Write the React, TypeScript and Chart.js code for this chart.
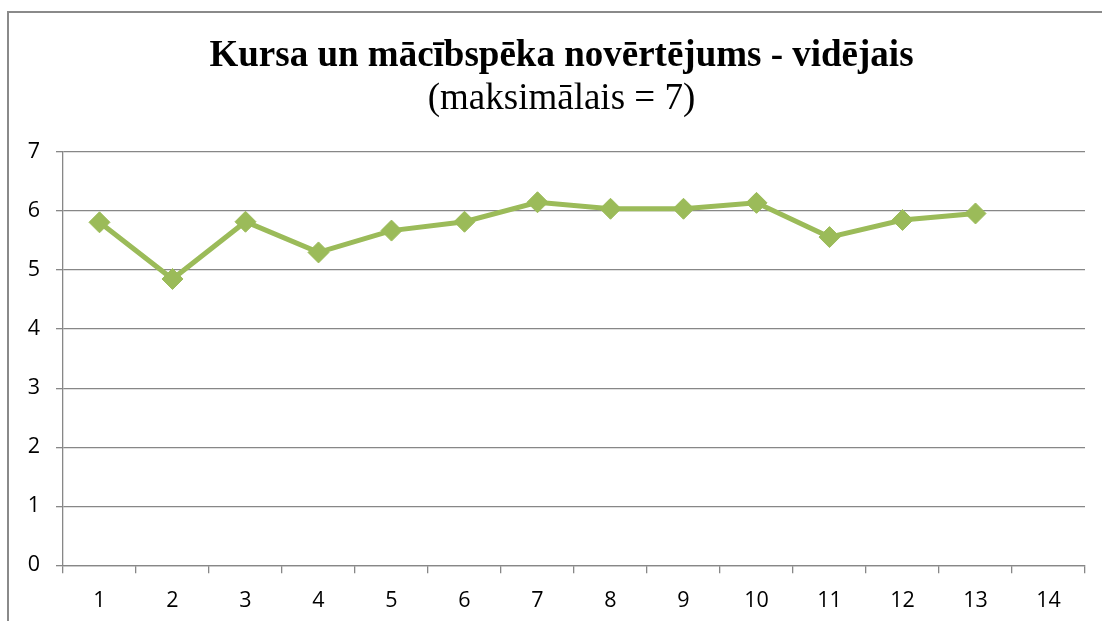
import React, { useEffect, useRef } from "react";
import { Chart, registerables } from "chart.js";

Chart.register(...registerables);

const categories: string[] = ["1", "2", "3", "4", "5", "6", "7", "8", "9", "10", "11", "12", "13", "14"];
const averages: (number | null)[] = [5.81, 4.85, 5.82, 5.3, 5.67, 5.82, 6.15, 6.04, 6.04, 6.14, 5.56, 5.85, 5.96, null];
const titleText = "Kursa un mācībspēka novērtējums - vidējais";
const subtitleText = "(maksimālais = 7)";
const yMin = 0;
const yMax = 7;

const GREEN = "#9BBB59";
const GRID = "#878787";
const TICK_FONT = { family: "'Open Sans', 'Noto Sans', sans-serif", size: 21.5 };

export default function App() {
  const ref = useRef<HTMLCanvasElement | null>(null);

  useEffect(() => {
    if (!ref.current) return;
    const chart = new Chart(ref.current, {
      type: "line",
      data: {
        labels: categories,
        datasets: [
          {
            data: averages,
            borderColor: GREEN,
            backgroundColor: GREEN,
            borderWidth: 5,
            pointStyle: "rectRot",
            pointRadius: 10.5,
            pointBorderWidth: 1,
            pointBorderColor: GREEN,
            pointBackgroundColor: GREEN,
            tension: 0,
            spanGaps: false,
            yAxisID: "y",
          },
        ],
      },
      options: {
        animation: false,
        responsive: true,
        maintainAspectRatio: false,
        layout: { padding: { left: 0, right: 0, top: 0, bottom: -8 } },
        plugins: {
          legend: { display: false },
          tooltip: { enabled: false },
          title: {
            display: true,
            text: titleText,
            color: "#000",
            font: { family: "'Liberation Serif', 'Times New Roman', serif", size: 37, weight: "bold", lineHeight: 1.15 },
            padding: { top: 22, bottom: 0 },
          },
          subtitle: {
            display: true,
            text: subtitleText,
            color: "#000",
            font: { family: "'Liberation Serif', 'Times New Roman', serif", size: 37, weight: "normal", lineHeight: 1.15 },
            padding: { top: 0, bottom: 32 },
          },
        },
        scales: {
          x: {
            offset: true,
            grid: {
              display: true,
              offset: true,
              drawOnChartArea: false,
              drawTicks: true,
              tickLength: 8,
              color: GRID,
              lineWidth: 1.3,
            },
            border: { display: true, color: GRID, width: 1.3 },
            ticks: { color: "#000", font: TICK_FONT, padding: 15, maxRotation: 0, autoSkip: false },
          },
          y: {
            min: yMin,
            max: yMax,
            afterFit: (scale: any) => {
              scale.width = 54;
            },
            grid: {
              display: true,
              drawTicks: true,
              tickLength: 7,
              color: GRID,
              lineWidth: 1.3,
            },
            border: { display: true, color: GRID, width: 1.3 },
            ticks: { stepSize: 1, color: "#000", font: TICK_FONT, padding: 16 },
          },
          yRight: {
            position: "right",
            display: true,
            min: yMin,
            max: yMax,
            afterFit: (scale: any) => {
              scale.width = 29;
            },
            grid: { display: false, drawTicks: false },
            border: { display: false },
            ticks: { display: false },
          },
        },
      },
    });
    return () => chart.destroy();
  }, []);

  return (
    <div
      style={{
        position: "absolute",
        left: 7,
        top: 11,
        width: 1095,
        height: 610,
        borderTop: "2px solid #8a8a8a",
        borderLeft: "2px solid #8a8a8a",
        background: "#fff",
        boxSizing: "border-box",
        overflow: "hidden",
      }}
    >
      <div style={{ position: "relative", width: 1105, height: 608 }}>
        <canvas ref={ref} style={{ display: "block" }} />
      </div>
    </div>
  );
}
